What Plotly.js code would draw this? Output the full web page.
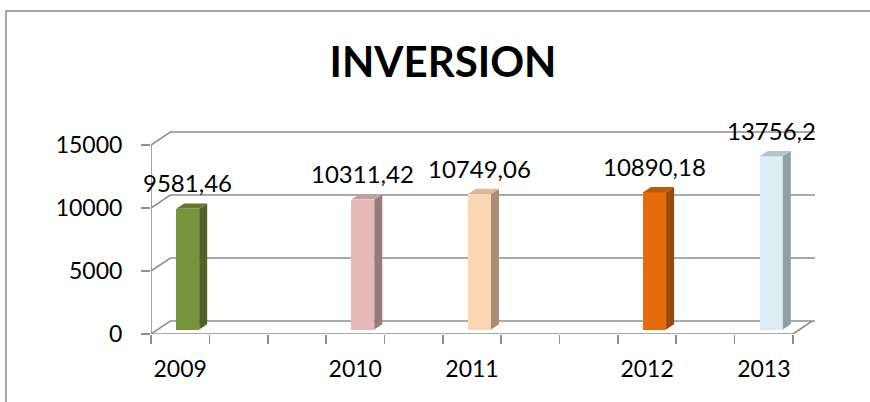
<!DOCTYPE html>
<html>
<head>
<meta charset="utf-8">
<script src="https://cdn.plot.ly/plotly-3.0.1.min.js"></script>
<style>html,body{margin:0;padding:0;background:#fff;}#chart{width:870px;height:402px;}</style>
</head>
<body>
<div id="chart"></div>
<script>
// ---- data ----
var slots = ['2009', '', '', '2010', '', '2011', '', '', '2012', '', '2013'];
var years = ['2009', '2010', '2011', '2012', '2013'];
var values = [9581.46, 10311.42, 10749.06, 10890.18, 13756.2];
var valueLabels = ['9581,46', '10311,42', '10749,06', '10890,18', '13756,2'];
var yTicks = [0, 5000, 10000, 15000];

// ---- styles ----
var frontColors = ['#77933C', '#E6B9B8', '#FCD5B5', '#E46C0A', '#DBEEF4'];
var sideColors  = ['#4F6228', '#977A79', '#A88D77', '#984807', '#919FA4'];
var topColors   = ['#5E7A2E', '#C29E9D', '#D9B89C', '#B85A08', '#B3C3C8'];
var gridColor = '#8f8f8f';
var FONT = 'Lato, "Open Sans", sans-serif';

// 3D geometry (axis units)
var X0 = 0.5, X1 = slots.length + 0.5, XMAX = 11.877, YMAX = 16350;
var backDx = 0.331, backDy = 1032;     // depth of the box
var barShift = 0.1285, barW = 0.394, barBase = 357;
var sideDx = 0.137, sideDy = 413;

var positions = years.map(function (y) { return slots.indexOf(y) + 1; });
var centers = positions.map(function (p) { return p + barShift; });

var traces = [];
// front faces
traces.push({
  type: 'bar', x: centers, y: values, base: barBase, width: barW,
  marker: { color: frontColors, line: { width: 0 } },
  hoverinfo: 'skip', showlegend: false
});
// side and top faces
for (var i = 0; i < values.length; i++) {
  var xl = centers[i] - barW / 2, xr = centers[i] + barW / 2;
  var yb = barBase, yt = barBase + values[i];
  traces.push({
    type: 'scatter', mode: 'lines', fill: 'toself', fillcolor: sideColors[i],
    line: { width: 0, color: sideColors[i] }, hoverinfo: 'skip', showlegend: false,
    x: [xr, xr, xr + sideDx, xr + sideDx, xr],
    y: [yb, yt, yt + sideDy, yb + sideDy, yb]
  });
  traces.push({
    type: 'scatter', mode: 'lines', fill: 'toself', fillcolor: topColors[i],
    line: { width: 0, color: topColors[i] }, hoverinfo: 'skip', showlegend: false,
    x: [xl, xr, xr + sideDx, xl + sideDx, xl],
    y: [yt, yt, yt + sideDy, yt + sideDy, yt]
  });
}

var shapes = [];
var lineStyle = { color: gridColor, width: 1.6 };
yTicks.forEach(function (v) {
  shapes.push({ type: 'path', xref: 'x', yref: 'y', layer: 'below', line: lineStyle,
    path: 'M' + X0 + ',' + v + ' L' + (X0 + backDx) + ',' + (v + backDy) + ' L' + XMAX + ',' + (v + backDy) });
});
// floor front edge and right edge
shapes.push({ type: 'path', xref: 'x', yref: 'y', layer: 'below', line: lineStyle,
  path: 'M' + X0 + ',0 L' + X1 + ',0 L' + (X1 + backDx) + ',' + backDy });
// y axis line
shapes.push({ type: 'line', xref: 'x', yref: 'y', layer: 'below', line: lineStyle,
  x0: X0, x1: X0, y0: 0, y1: yTicks[yTicks.length - 1] });
// outer chart border (left + top)
shapes.push({ type: 'path', xref: 'paper', yref: 'paper', line: { color: '#8a8a8a', width: 1.5 },
  path: 'M-0.2184,-0.4 L-0.2184,1.568 L1.2,1.568' });

var annotations = values.map(function (v, i) {
  return { x: centers[i], y: barBase + v, xref: 'x', yref: 'y', text: valueLabels[i],
    showarrow: false, yanchor: 'middle', xanchor: 'center', yshift: 26,
    font: { family: FONT, size: 24, color: '#000' } };
});

var boundaries = [];
for (var k = 0; k <= slots.length; k++) boundaries.push(k + 0.5);

var layout = {
  width: 870, height: 402,
  margin: { l: 151, r: 55, t: 128, b: 68, pad: 0 },
  paper_bgcolor: '#fff', plot_bgcolor: 'rgba(0,0,0,0)',
  showlegend: false,
  title: { text: '<b>INVERSION</b>', x: 443 / 870, xanchor: 'center', xref: 'container',
    y: 1 - 62 / 402, yanchor: 'middle', yref: 'container',
    font: { family: FONT, size: 42, color: '#000' } },
  xaxis: {
    range: [X0, XMAX], showgrid: false, zeroline: false, showline: false,
    tickmode: 'array', tickvals: slots.map(function (s, j) { return j + 1; }), ticktext: slots,
    ticks: '', ticklabelstandoff: 19,
    minor: { tickmode: 'array', tickvals: boundaries, ticks: 'outside', ticklen: 9, tickwidth: 1.6, tickcolor: gridColor, showgrid: false },
    tickfont: { family: FONT, size: 23, color: '#000' }, fixedrange: true
  },
  yaxis: {
    range: [0, YMAX], showgrid: false, zeroline: false, showline: false,
    tickmode: 'array', tickvals: yTicks, ticktext: yTicks.map(String),
    ticks: 'outside', ticklen: 9, tickwidth: 1.6, tickcolor: gridColor, ticklabelstandoff: 14,
    tickfont: { family: FONT, size: 23, color: '#000' }, fixedrange: true
  },
  shapes: shapes,
  annotations: annotations,
  bargap: 0
};

Plotly.newPlot('chart', traces, layout, { displayModeBar: false, staticPlot: true });
</script>
</body>
</html>
